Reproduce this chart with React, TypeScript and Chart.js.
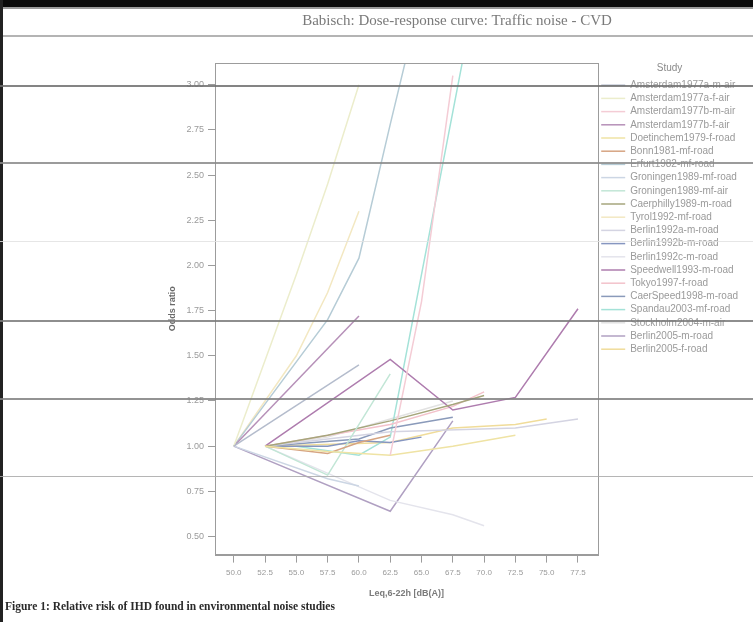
import React, { useEffect, useRef } from "react";
import { Chart, registerables } from "chart.js";

Chart.register(...registerables);

// ---- Text ----
const chartTitle = "Babisch: Dose-response curve: Traffic noise - CVD";
const xAxisTitle = "Leq,6-22h [dB(A)]";
const yAxisTitle = "Odds ratio";
const legendTitle = "Study";
const figureCaption = "Figure 1: Relative risk of IHD found in environmental noise studies";

// ---- Ticks ----
const xTickValues = [50, 52.5, 55, 57.5, 60, 62.5, 65, 67.5, 70, 72.5, 75, 77.5];
const yTickValues = [0.5, 0.75, 1.0, 1.25, 1.5, 1.75, 2.0, 2.25, 2.5, 2.75, 3.0];

// ---- Studies (legend order) ----
const studyNames = [
  "Amsterdam1977a-m-air",
  "Amsterdam1977a-f-air",
  "Amsterdam1977b-m-air",
  "Amsterdam1977b-f-air",
  "Doetinchem1979-f-road",
  "Bonn1981-mf-road",
  "Erfurt1982-mf-road",
  "Groningen1989-mf-road",
  "Groningen1989-mf-air",
  "Caerphilly1989-m-road",
  "Tyrol1992-mf-road",
  "Berlin1992a-m-road",
  "Berlin1992b-m-road",
  "Berlin1992c-m-road",
  "Speedwell1993-m-road",
  "Tokyo1997-f-road",
  "CaerSpeed1998-m-road",
  "Spandau2003-mf-road",
  "Stockholm2004-m-air",
  "Berlin2005-m-road",
  "Berlin2005-f-road",
];

const studyColors = [
  "#b4bccc",
  "#ecedcc",
  "#f4ccd5",
  "#b690b8",
  "#efe3a4",
  "#d6a482",
  "#b6ccd6",
  "#ccd6e4",
  "#c2e6d6",
  "#a6a67c",
  "#f3e8c2",
  "#d4d4e2",
  "#8696c0",
  "#e4e4ec",
  "#ae7cae",
  "#f3c2cb",
  "#8a9aba",
  "#a4e2d8",
  "#e2e2e2",
  "#b0a0c2",
  "#f0dc9a",
];

// ---- Values: [Leq dB(A), odds ratio] ----
const amsterdam1977aMAir = [[50, 1.0], [60, 1.45]];
const amsterdam1977aFAir = [[50, 1.0], [55, 1.95], [57.5, 2.45], [60, 3.0]];
const amsterdam1977bMAir = [[62.5, 0.95], [65, 1.8], [67.5, 3.05]];
const amsterdam1977bFAir = [[50, 1.0], [60, 1.72]];
const doetinchem1979FRoad = [[52.5, 1.0], [57.5, 0.97], [62.5, 0.95], [67.5, 1.0], [72.5, 1.06]];
const bonn1981MfRoad = [[52.5, 1.0], [57.5, 0.96], [60, 1.02], [62.5, 1.06]];
const erfurt1982MfRoad = [[50, 1.0], [57.5, 1.7], [60, 2.04], [62.5, 2.78], [65, 3.5]];
const groningen1989MfRoad = [[50, 1.0], [57.5, 0.82], [60, 0.78]];
const groningen1989MfAir = [[52.5, 1.0], [57.5, 0.84], [62.5, 1.4]];
const caerphilly1989MRoad = [[52.5, 1.0], [57.5, 1.06], [62.5, 1.14], [67.5, 1.23], [70, 1.28]];
const tyrol1992MfRoad = [[50, 1.0], [55, 1.5], [57.5, 1.85], [60, 2.3]];
const berlin1992aMRoad = [[52.5, 1.0], [62.5, 1.08], [72.5, 1.1], [77.5, 1.15]];
const berlin1992bMRoad = [[52.5, 1.0], [57.5, 1.0], [60, 1.03], [62.5, 1.02], [65, 1.05]];
const berlin1992cMRoad = [[52.5, 1.0], [62.5, 0.7], [67.5, 0.62], [70, 0.56]];
const speedwell1993MRoad = [[52.5, 1.0], [62.5, 1.48], [67.5, 1.2], [72.5, 1.27], [77.5, 1.76]];
const tokyo1997FRoad = [[52.5, 1.0], [62.5, 1.12], [67.5, 1.22], [70, 1.3]];
const caerSpeed1998MRoad = [[52.5, 1.0], [60, 1.04], [62.5, 1.1], [67.5, 1.16]];
const spandau2003MfRoad = [[55, 1.0], [60, 0.95], [62.5, 1.05], [65, 1.95], [67.5, 2.85], [70, 3.75]];
const stockholm2004MAir = [[52.5, 1.0], [57.5, 1.05], [62.5, 1.15], [67.5, 1.25]];
const berlin2005MRoad = [[50, 1.0], [62.5, 0.64], [67.5, 1.14]];
const berlin2005FRoad = [[52.5, 1.0], [62.5, 1.02], [67.5, 1.1], [72.5, 1.12], [75, 1.15]];

const studyPoints = [
  amsterdam1977aMAir,
  amsterdam1977aFAir,
  amsterdam1977bMAir,
  amsterdam1977bFAir,
  doetinchem1979FRoad,
  bonn1981MfRoad,
  erfurt1982MfRoad,
  groningen1989MfRoad,
  groningen1989MfAir,
  caerphilly1989MRoad,
  tyrol1992MfRoad,
  berlin1992aMRoad,
  berlin1992bMRoad,
  berlin1992cMRoad,
  speedwell1993MRoad,
  tokyo1997FRoad,
  caerSpeed1998MRoad,
  spandau2003MfRoad,
  stockholm2004MAir,
  berlin2005MRoad,
  berlin2005FRoad,
];

const sans = "'Liberation Sans', Arial, sans-serif";
const serif = "'Liberation Serif', 'Times New Roman', serif";

// scan artefact lines across the photographed page
const scanLines = [
  { top: 85, color: "#6e6e6e", h: 2 },
  { top: 162, color: "#8a8a8a", h: 1.5 },
  { top: 241, color: "#e2e2e2", h: 1 },
  { top: 320, color: "#7a7a7a", h: 1.5 },
  { top: 398, color: "#808080", h: 1.5 },
  { top: 476, color: "#a8a8a8", h: 1 },
];

const framePlugin = {
  id: "plotFrame",
  afterDatasetsDraw(chart: any) {
    const { ctx, chartArea: a } = chart;
    ctx.save();
    ctx.strokeStyle = "#9c9c9c";
    ctx.lineWidth = 1;
    ctx.strokeRect(Math.round(a.left) + 0.5, Math.round(a.top) + 0.5, Math.round(a.width), Math.round(a.height));
    ctx.restore();
  },
};

export default function App() {
  const canvasRef = useRef<HTMLCanvasElement | null>(null);

  useEffect(() => {
    document.body.style.margin = "0";
    const canvas = canvasRef.current;
    if (!canvas) return;
    const defaultLabels = (Chart as any).defaults.plugins.legend.labels.generateLabels;

    const chart = new Chart(canvas, {
      type: "line",
      data: {
        datasets: studyNames.map((name, i) => ({
          label: name,
          data: studyPoints[i].map(([x, y]) => ({ x, y })),
          borderColor: studyColors[i],
          backgroundColor: studyColors[i],
          borderWidth: 1.5,
          pointRadius: 0,
          tension: 0,
          fill: false,
        })),
      },
      options: {
        animation: false,
        responsive: false,
        maintainAspectRatio: false,
        events: [],
        layout: { padding: { left: 160, top: 63, right: 12, bottom: 23 } },
        plugins: {
          tooltip: { enabled: false },
          legend: {
            position: "right",
            align: "start",
            maxWidth: 143,
            title: {
              display: true,
              text: legendTitle,
              color: "#8a8a8a",
              font: { size: 10, family: sans },
              padding: { top: 0, bottom: 2 },
            },
            labels: {
              boxWidth: 24,
              boxHeight: 1.5,
              padding: 3.2,
              color: "#9a9a9a",
              font: { size: 10, family: sans },
              generateLabels: (c: any) =>
                defaultLabels(c).map((l: any) => ({ ...l, fillStyle: l.strokeStyle, lineWidth: 0 })),
            },
          },
        },
        scales: {
          x: {
            type: "linear",
            min: 48.5,
            max: 79.1,
            afterBuildTicks: (s: any) => {
              s.ticks = xTickValues.map((v) => ({ value: v }));
            },
            ticks: {
              callback: (v: any) => Number(v).toFixed(1),
              color: "#9a9a9a",
              font: { size: 8, family: sans },
              padding: 5,
              maxRotation: 0,
              autoSkip: false,
            },
            grid: { drawOnChartArea: false, tickLength: 8, color: "#9c9c9c" },
            border: { display: true, color: "#9c9c9c" },
            title: {
              display: true,
              text: xAxisTitle,
              color: "#7a7a7a",
              font: { size: 9, weight: "bold", family: sans },
              padding: { top: 6, bottom: 0 },
            },
          },
          y: {
            type: "linear",
            min: 0.4,
            max: 3.12,
            afterBuildTicks: (s: any) => {
              s.ticks = yTickValues.map((v) => ({ value: v }));
            },
            afterFit: (s: any) => {
              s.width = 55;
            },
            ticks: {
              callback: (v: any) => Number(v).toFixed(2),
              color: "#9a9a9a",
              font: { size: 9, family: sans },
              padding: 4,
            },
            grid: { drawOnChartArea: false, tickLength: 7, color: "#9c9c9c" },
            border: { display: true, color: "#8c8c8c" },
            title: {
              display: true,
              text: yAxisTitle,
              color: "#6a6a6a",
              font: { size: 9, weight: "bold", family: sans },
              padding: { top: 7, bottom: 0 },
            },
          },
        },
      },
      plugins: [framePlugin],
    } as any);

    return () => chart.destroy();
  }, []);

  return (
    <div style={{ position: "relative", width: 753, height: 622, background: "#ffffff", overflow: "hidden" }}>
      <canvas ref={canvasRef} width={753} height={622} style={{ position: "absolute", left: 0, top: 0 }} />
      <div style={{ position: "absolute", left: 0, top: 0, width: 753, height: 7, background: "#0a0a0a" }} />
      <div style={{ position: "absolute", left: 0, top: 7, width: 753, height: 2, background: "#9a9a9a" }} />
      <div style={{ position: "absolute", left: 0, top: 0, width: 3, height: 622, background: "#222" }} />
      <div
        style={{
          position: "absolute",
          left: 457,
          top: 12,
          transform: "translateX(-50%)",
          whiteSpace: "nowrap",
          font: `15px ${serif}`,
          color: "#7a7a7a",
        }}
      >
        {chartTitle}
      </div>
      <div style={{ position: "absolute", left: 3, top: 35, width: 750, height: 1.5, background: "#b4b4b4" }} />
      {scanLines.map((l, i) => (
        <div
          key={i}
          style={{ position: "absolute", left: 0, top: l.top, width: 753, height: l.h, background: l.color, opacity: 0.85 }}
        />
      ))}
      <div
        style={{
          position: "absolute",
          left: 5,
          top: 600,
          whiteSpace: "nowrap",
          font: `bold 11.5px ${serif}`,
          color: "#2a2a2a",
        }}
      >
        {figureCaption}
      </div>
    </div>
  );
}
